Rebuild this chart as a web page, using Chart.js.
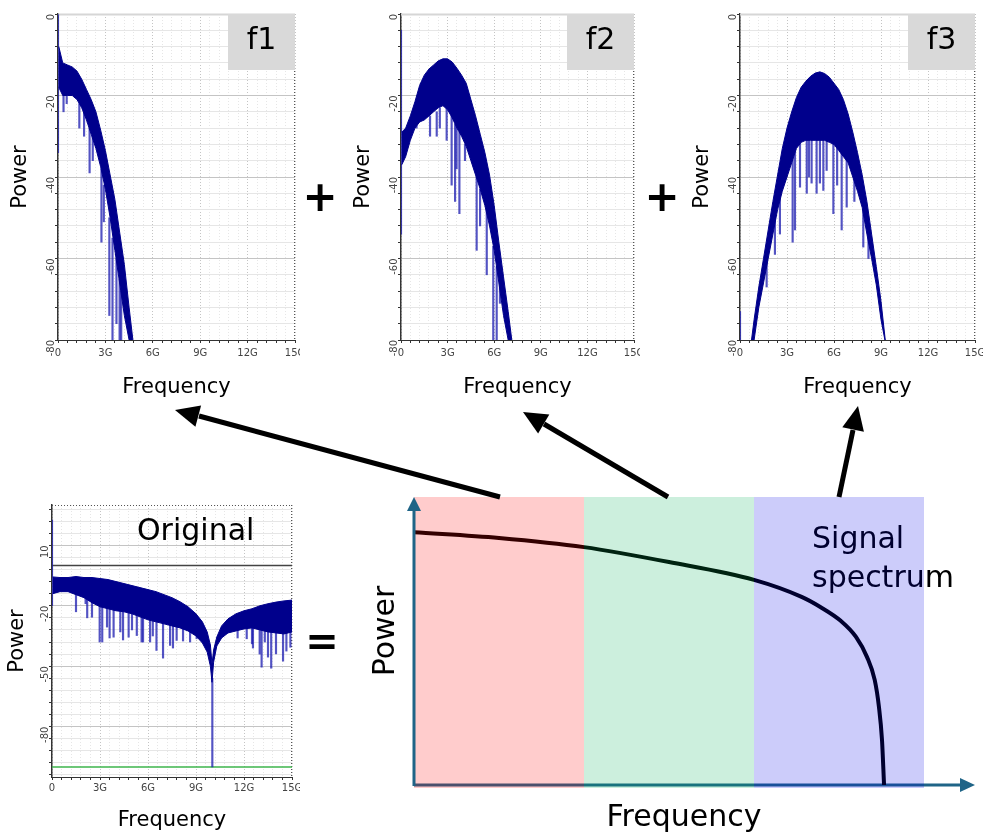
<!DOCTYPE html>
<html>
<head>
<meta charset="utf-8">
<script src="https://cdn.jsdelivr.net/npm/chart.js@4.4.1/dist/chart.umd.min.js"></script>
<style>
  html, body { margin: 0; padding: 0; background: #fff; }
  #stage { position: relative; width: 983px; height: 834px; overflow: hidden; }
  #stage canvas { position: absolute; }
  #overlay { position: absolute; left: 0; top: 0; pointer-events: none; }
</style>
</head>
<body>
<div id="stage">
  <canvas id="f1" width="300" height="400" style="left:0;top:0"></canvas>
  <canvas id="f2" width="300" height="400" style="left:340px;top:0"></canvas>
  <canvas id="f3" width="303" height="400" style="left:680px;top:0"></canvas>
  <canvas id="orig" width="300" height="344" style="left:0;top:490px"></canvas>
  <canvas id="sketch" width="613" height="354" style="left:370px;top:480px"></canvas>
  <svg id="overlay" width="983" height="834">
    <g stroke="#000" stroke-width="5" fill="none">
      <line x1="500" y1="497" x2="199" y2="416"/>
      <line x1="668" y1="497" x2="544" y2="424"/>
      <line x1="839" y1="497" x2="853" y2="430"/>
    </g>
    <g fill="#000">
      <polygon points="175,410 201.1,405.6 195.4,426.8"/>
      <polygon points="523,412 549.3,414.6 538.1,433.6"/>
      <polygon points="858,406 863.9,431.7 842.3,427.3"/>
    </g>
    <g font-family="DejaVu Sans" font-weight="bold" font-size="42" text-anchor="middle">
      <text x="320" y="211">+</text>
      <text x="662" y="211">+</text>
      <text x="322" y="655" font-size="40">=</text>
    </g>
  </svg>
</div>
<script>
// axis ticks
const freqTicks = [0, 3, 6, 9, 12, 15];
const freqTickLabels = ['0', '3G', '6G', '9G', '12G', '15G'];
const powerTicks = [0, -20, -40, -60, -80];
const powerTickLabels = ['0', '-20', '-40', '-60', '-80'];
const origPowerTicks = [10, -20, -50, -80];
const origPowerTickLabels = ['10', '-20', '-50', '-80'];

// f1 : low band (GHz / dB)
const f1Freq = [0.05, 0.3, 0.6, 0.9, 1.2, 1.5, 1.8, 2.1, 2.4, 2.7, 3.0, 3.3, 3.6, 3.9, 4.2, 4.5, 4.8];
const f1Top  = [-8, -12, -12.5, -13, -14, -16, -18.5, -21, -24, -28.5, -33.5, -39.5, -45.5, -53.5, -61.5, -72, -82];
const f1Body = [-18, -20, -20, -20, -21, -23, -26, -29.5, -33, -37.5, -43, -50, -58, -66, -74, -80, -82];
// dips: [freq, from, to]
const f1Dips = [[0.0, 0, -34], [0.35, -19, -24], [0.55, -19, -22], [1.35, -22, -28], [1.65, -24, -30],
  [2.0, -28, -39], [2.2, -30, -36], [2.75, -38, -56], [2.9, -42, -51], [3.25, -50, -74],
  [3.45, -55, -80], [3.7, -60, -76], [3.9, -65, -80], [4.0, -68, -80]];

// f2 : middle band
const f2Freq = [0.05, 0.3, 0.6, 0.9, 1.2, 1.5, 1.8, 2.1, 2.4, 2.7, 3.0, 3.3, 3.6, 3.9, 4.2, 4.5, 4.8, 5.1, 5.4, 5.7, 6.0, 6.3, 6.6, 6.9, 7.2];
const f2Top  = [-29, -28, -25, -21.5, -17.5, -15, -13.5, -12.5, -11.5, -11, -11, -11.8, -13.3, -15, -17, -21, -25, -29.5, -34, -39.5, -47, -56, -64.5, -73, -82];
const f2Body = [-37, -35, -31, -28, -26.5, -26, -25, -24, -23, -22.5, -23.5, -25.5, -28, -30, -32.5, -36, -39.5, -43, -47, -52, -58, -66, -74, -80, -82];
const f2Dips = [[0.0, -4, -54], [1.0, -23, -28], [1.87, -25, -30], [2.3, -24, -30], [2.5, -23, -28],
  [2.94, -23, -31], [3.26, -25, -42], [3.48, -27, -46], [3.58, -27, -38], [3.76, -29, -49],
  [4.12, -32, -36], [4.87, -40, -58], [5.09, -43, -52], [5.52, -48, -64], [5.94, -57, -80],
  [6.16, -62, -80], [6.37, -66, -71]];

// f3 : high band
const f3Freq = [0.7, 0.9, 1.2, 1.5, 1.8, 2.1, 2.4, 2.7, 3.0, 3.3, 3.6, 3.9, 4.2, 4.5, 4.8, 5.1, 5.4, 5.7, 6.0, 6.3, 6.6, 6.9, 7.2, 7.5, 7.8, 8.1, 8.4, 8.7, 9.0, 9.3];
const f3Top  = [-81, -75, -67, -60, -53, -46, -39.5, -33, -28, -24, -20.5, -18, -16.5, -15.3, -14.5, -14.2, -14.6, -15.5, -17, -18.5, -21, -24.5, -29, -34, -39.5, -46, -54, -62, -70.5, -81];
const f3Body = [-81, -80, -72, -66, -60, -54, -48, -43.5, -40, -36.5, -33, -31.5, -31, -31, -31, -31, -31, -31.5, -32, -33.5, -35, -36.5, -40, -43.5, -47.5, -54, -60, -66.5, -75, -81];
const f3Dips = [[0.0, -73, -80], [1.7, -60, -67], [2.23, -48, -59], [2.55, -42, -54], [3.36, -35, -56],
  [3.51, -33, -53], [3.83, -31, -42.5], [4.26, -30, -44], [4.4, -30, -40], [4.57, -30, -41.5],
  [4.89, -30, -44], [5.1, -30, -41.5], [5.32, -30, -43.3], [5.53, -30, -38.4], [5.96, -31, -49],
  [6.2, -32, -42], [6.49, -34, -53], [6.81, -35, -47.4], [7.3, -40, -46], [7.87, -48, -57.2], [8.2, -54, -60]];

// original signal
const origFreq = [0.05, 0.5, 1, 1.5, 2, 2.5, 3, 3.5, 4, 4.5, 5, 5.5, 6, 6.5, 7, 7.5, 8, 8.5, 9, 9.4, 9.7, 9.9, 10.0, 10.1, 10.3, 10.6, 11, 11.5, 12, 12.5, 13, 13.5, 14, 14.5, 15];
const origTop  = [-5.7, -6, -6, -5.5, -6, -6, -6.5, -7, -8, -9, -10, -11, -12, -13, -14.5, -16, -18, -20.5, -24, -28, -33, -39.5, -49, -42, -35.5, -30, -26.5, -24, -22.5, -21.5, -20, -19, -18.2, -17.6, -17.2];
const origBody = [-14, -13, -13, -14.5, -16, -18.5, -20.5, -21.5, -22.5, -23, -24, -25.5, -27, -28, -29, -30, -31, -32.5, -35, -38.5, -43, -50, -58, -48, -40, -36, -33.5, -32.5, -31.5, -31, -32, -33, -33.5, -34, -33];
const origDips = [[0.0, 22.5, -20], [1.5, -13, -23], [2.1, -14, -19], [2.2, -14, -26], [2.5, -17, -25.7],
  [2.98, -18, -38], [3.14, -19, -38], [3.44, -19, -30.6], [3.6, -20, -36], [3.85, -21, -35.6],
  [4.27, -22, -33], [4.44, -22, -37], [4.79, -22, -35.6], [5.0, -23, -32], [5.3, -24, -34.8],
  [5.6, -24, -38], [5.69, -24, -38], [6.13, -26, -38], [6.3, -26, -35], [6.53, -27, -42.2],
  [6.94, -28, -46], [7.38, -29, -39.7], [7.56, -30, -41], [7.79, -30, -37.2], [8.19, -31, -37.5],
  [8.63, -32, -38], [9.04, -34, -36.4], [10.02, -56, -100], [11.6, -31, -36], [12.17, -30, -36.4],
  [12.5, -30, -38.9], [12.56, -30, -41], [12.98, -30, -44], [13.1, -31, -50.5], [13.3, -31, -38],
  [13.5, -32, -45.5], [13.7, -32, -51], [14.0, -32, -43.9], [14.44, -32, -47.5], [14.65, -32, -42.5],
  [14.9, -32, -40.6]];
const origRefLevels = [0, -100];

// schematic spectrum (relative units, bands of width 1)
const bandEdges = [0, 1, 2, 3];
const curveX = [0, 0.5, 1.0, 1.5, 2.0, 2.28, 2.39, 2.51, 2.6, 2.665, 2.71, 2.735, 2.753, 2.765];
const curveY = [0.878, 0.858, 0.826, 0.774, 0.712, 0.653, 0.618, 0.570, 0.514, 0.444, 0.365, 0.271, 0.156, 0];

const FONT = 'DejaVu Sans';
const NAVY = '#00008c';
const DIP = 'rgba(25,25,175,0.75)';
const MAJOR = '#c4c4c4';
const MINOR = '#e6e6e6';

function toPts(xs, ys) {
    return xs.map((x, i) => ({ x: x, y: ys[i] }));
}

function stepTicks(from, to, step) {
    const out = [];
    const n = Math.round((to - from) / step);
    for (let i = 0; i <= n; i++) {
        out.push({ value: Math.round((from + i * step) * 1e6) / 1e6 });
    }
    return out;
}

function isTick(v, list) {
    return list.some(t => Math.abs(t - v) < 1e-6);
}

function tickLabel(v, list, labels) {
    const i = list.findIndex(t => Math.abs(t - v) < 1e-6);
    return i < 0 ? '' : labels[i];
}

function plotDecor(spec) {
    return {
        id: 'plotDecor',
        beforeDatasetsDraw(chart) {
            const { ctx, chartArea: a } = chart;
            ctx.save();
            ctx.strokeStyle = spec.topColor;
            ctx.lineWidth = spec.topWidth;
            ctx.setLineDash(spec.topDash);
            ctx.beginPath();
            ctx.moveTo(a.left, a.top + 0.5);
            ctx.lineTo(a.right, a.top + 0.5);
            ctx.stroke();
            ctx.strokeStyle = '#555';
            ctx.lineWidth = 1;
            ctx.setLineDash([1, 2]);
            ctx.beginPath();
            ctx.moveTo(a.right - 0.5, a.top);
            ctx.lineTo(a.right - 0.5, a.bottom);
            ctx.stroke();
            ctx.restore();
        },
        afterDatasetsDraw(chart) {
            const { ctx, chartArea: a } = chart;
            ctx.save();
            if (spec.tagBox) {
                ctx.fillStyle = '#d9d9d9';
                ctx.fillRect(a.right - 67, a.top, 67, 56);
                ctx.fillStyle = '#000';
                ctx.font = '30px "' + FONT + '"';
                ctx.textAlign = 'center';
                ctx.textBaseline = 'middle';
                ctx.fillText(spec.tag, a.right - 33.5, a.top + 27);
            } else {
                ctx.fillStyle = '#000';
                ctx.font = '30px "' + FONT + '"';
                ctx.textAlign = 'left';
                ctx.textBaseline = 'alphabetic';
                ctx.fillText(spec.tag, a.left + 85, a.top + 35);
            }
            ctx.restore();
        }
    };
}

function spectrumChart(id, spec) {
    const datasets = [
        { data: toPts(spec.freq, spec.top), borderColor: NAVY, backgroundColor: NAVY, borderWidth: 1,
          pointRadius: 0, tension: 0, fill: '+1' },
        { data: toPts(spec.freq, spec.body), borderColor: NAVY, borderWidth: 1, pointRadius: 0, tension: 0, fill: false },
        { type: 'bar', data: spec.dips.map(d => ({ x: d[0], y: [d[2], d[1]] })), backgroundColor: DIP, barThickness: 1.5 }
    ];
    (spec.refLines || []).forEach(r => {
        datasets.push({ data: [{ x: 0, y: r.level }, { x: 15, y: r.level }], borderColor: r.color,
            borderWidth: 1.5, pointRadius: 0, fill: false });
    });

    return new Chart(document.getElementById(id), {
        type: 'line',
        data: { datasets: datasets },
        options: {
            responsive: false,
            animation: false,
            events: [],
            layout: { padding: spec.pad },
            plugins: { legend: { display: false }, tooltip: { enabled: false } },
            scales: {
                x: {
                    type: 'linear', min: 0, max: 15, offset: false,
                    afterBuildTicks: sc => { sc.ticks = stepTicks(0, 15, 0.6); },
                    afterFit: sc => { sc.height = spec.xAxisH; sc.paddingLeft = 0; sc.paddingRight = 0; },
                    ticks: { autoSkip: false, maxRotation: 0, minRotation: 0, padding: spec.xTickPad, color: '#444',
                             font: { family: FONT, size: 10 },
                             callback: v => tickLabel(v, freqTicks, freqTickLabels) },
                    grid: { color: c => isTick(c.tick.value, freqTicks) ? MAJOR : MINOR, tickLength: 3, tickColor: '#333', offset: false },
                    border: { color: '#333', width: 1, dash: [1, 2] },
                    title: { display: true, text: 'Frequency', color: '#000', font: { family: FONT, size: 21 },
                             padding: { top: 0, bottom: spec.xTitlePad } }
                },
                y: {
                    type: 'linear', min: spec.yMin, max: spec.yMax,
                    afterBuildTicks: sc => { sc.ticks = spec.yMinor; },
                    afterFit: sc => { sc.width = spec.yAxisW; sc.paddingTop = 0; sc.paddingBottom = 0; },
                    ticks: { autoSkip: false, minRotation: 90, maxRotation: 90, padding: 4, color: '#444',
                             font: { family: FONT, size: 10 },
                             callback: v => tickLabel(v, spec.yTicks, spec.yLabels) },
                    grid: { color: c => isTick(c.tick.value, spec.yTicks) ? MAJOR : MINOR, tickLength: 3, tickColor: '#333' },
                    border: { color: '#333', width: 1.5 },
                    title: { display: true, text: 'Power', color: '#000', font: { family: FONT, size: 21 },
                             padding: { top: spec.yTitlePad, bottom: 0 } }
                }
            }
        },
        plugins: [plotDecor(spec)]
    });
}

const bandSpec = {
    yMin: -80, yMax: 0, yMinor: stepTicks(-80, 0, 4), yTicks: powerTicks, yLabels: powerTickLabels,
    xAxisH: 60, xTickPad: 4, xTitlePad: 0, tagBox: true, topColor: '#d6d6d6', topWidth: 2, topDash: []
};

spectrumChart('f1', Object.assign({}, bandSpec, {
    freq: f1Freq, top: f1Top, body: f1Body, dips: f1Dips, tag: 'f1',
    pad: { left: 0, right: 5, top: 14, bottom: 0 }, yAxisW: 58, yTitlePad: 8
}));
spectrumChart('f2', Object.assign({}, bandSpec, {
    freq: f2Freq, top: f2Top, body: f2Body, dips: f2Dips, tag: 'f2',
    pad: { left: 0, right: 6, top: 14, bottom: 0 }, yAxisW: 61, yTitlePad: 11
}));
spectrumChart('f3', Object.assign({}, bandSpec, {
    freq: f3Freq, top: f3Top, body: f3Body, dips: f3Dips, tag: 'f3',
    pad: { left: 0, right: 8, top: 14, bottom: 0 }, yAxisW: 60, yTitlePad: 10
}));
spectrumChart('orig', {
    freq: origFreq, top: origTop, body: origBody, dips: origDips, tag: 'Original', tagBox: false,
    refLines: [{ level: origRefLevels[0], color: '#444' }, { level: origRefLevels[1], color: '#3cb44b' }],
    yMin: -105, yMax: 30, yMinor: stepTicks(-104, 28, 6), yTicks: origPowerTicks, yLabels: origPowerTickLabels,
    pad: { left: 0, right: 8, top: 15, bottom: 0 }, yAxisW: 52, yTitlePad: 5,
    xAxisH: 57, xTickPad: 2, xTitlePad: 1, topColor: '#555', topWidth: 1, topDash: [1, 2]
});

// schematic of the full signal spectrum split in three bands
const AXIS = '#1f6487';
const bandFill = ['rgba(255,0,0,0.2)', 'rgba(0,175,85,0.2)', 'rgba(0,0,230,0.2)'];

const sketchDecor = {
    id: 'sketchDecor',
    beforeDatasetsDraw(chart) {
        const { ctx, chartArea: a } = chart;
        ctx.save();
        ctx.strokeStyle = AXIS;
        ctx.fillStyle = AXIS;
        ctx.lineWidth = 3;
        ctx.beginPath();
        ctx.moveTo(a.left, a.bottom);
        ctx.lineTo(a.right - 12, a.bottom);
        ctx.stroke();
        ctx.beginPath();
        ctx.moveTo(a.right, a.bottom);
        ctx.lineTo(a.right - 15, a.bottom - 7);
        ctx.lineTo(a.right - 15, a.bottom + 7);
        ctx.closePath();
        ctx.fill();
        ctx.fillStyle = '#000';
        ctx.font = '30px "' + FONT + '"';
        ctx.textAlign = 'left';
        ctx.fillText('Signal', a.left + 398, a.top + 51);
        ctx.fillText('spectrum', a.left + 398, a.top + 90);
        ctx.restore();
    },
    afterDatasetsDraw(chart) {
        const { ctx, chartArea: a } = chart;
        const xs = chart.scales.x;
        ctx.save();
        for (let i = 0; i < bandEdges.length - 1; i++) {
            const x0 = xs.getPixelForValue(bandEdges[i]);
            const x1 = xs.getPixelForValue(bandEdges[i + 1]);
            ctx.fillStyle = bandFill[i];
            ctx.fillRect(x0, a.top, x1 - x0, a.bottom - a.top + 3);
        }
        ctx.strokeStyle = AXIS;
        ctx.fillStyle = AXIS;
        ctx.lineWidth = 3;
        ctx.beginPath();
        ctx.moveTo(a.left, a.bottom + 1);
        ctx.lineTo(a.left, a.top + 12);
        ctx.stroke();
        ctx.beginPath();
        ctx.moveTo(a.left, a.top);
        ctx.lineTo(a.left - 7, a.top + 14);
        ctx.lineTo(a.left + 7, a.top + 14);
        ctx.closePath();
        ctx.fill();

        ctx.fillStyle = '#000';
        ctx.font = '30px "' + FONT + '"';
        ctx.textAlign = 'center';
        ctx.textBaseline = 'middle';
        ctx.fillText('Frequency', a.left + 270, a.bottom + 33);
        ctx.translate(a.left - 28, a.top + 134);
        ctx.rotate(-Math.PI / 2);
        ctx.fillText('Power', 0, 0);
        ctx.restore();
    }
};

new Chart(document.getElementById('sketch'), {
    type: 'line',
    data: {
        datasets: [{
            data: toPts(curveX, curveY),
            borderColor: '#000',
            borderWidth: 4,
            pointRadius: 0,
            cubicInterpolationMode: 'monotone',
            fill: false
        }]
    },
    options: {
        responsive: false,
        animation: false,
        events: [],
        layout: { padding: { left: 44, right: 8, top: 17, bottom: 49 } },
        plugins: { legend: { display: false }, tooltip: { enabled: false } },
        scales: {
            x: { type: 'linear', display: false, min: 0, max: 3.3 },
            y: { type: 'linear', display: false, min: 0, max: 1 }
        }
    },
    plugins: [sketchDecor]
});
</script>
</body>
</html>
